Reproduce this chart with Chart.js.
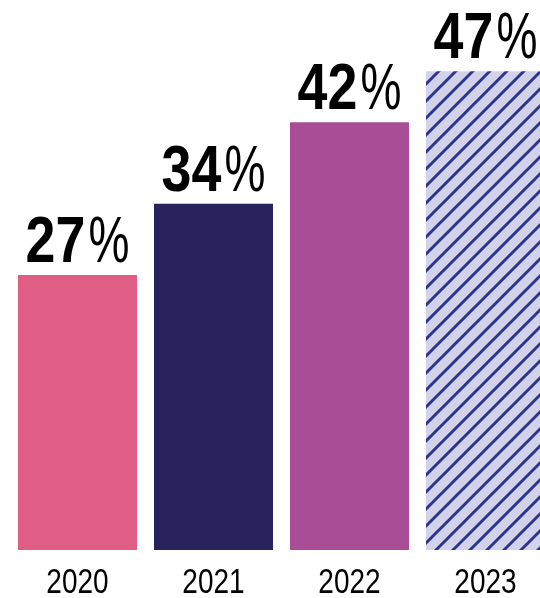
<!DOCTYPE html>
<html>
<head>
<meta charset="utf-8">
<script src="https://cdn.jsdelivr.net/npm/chart.js@4/dist/chart.umd.min.js"></script>
<style>
  html, body { margin: 0; padding: 0; background: #ffffff; overflow: hidden; }
  #wrap { width: 540px; height: 598px; overflow: hidden; position: relative; }
  #chart { position: absolute; left: 0; top: 0; }
</style>
</head>
<body>
<div id="wrap"><canvas id="chart" width="560" height="598"></canvas></div>
<script>
// Share by year (%)
const years = ['2020', '2021', '2022', '2023'];
const shares = [27, 34, 42, 47];
const barColors = ['#e05e85', '#29235c', '#a84d96', null];

const FONT = '"Liberation Sans", Arial, Helvetica, sans-serif';
const NUM_SQUEEZE = 0.84;   // condensed bold figures
const PCT_SQUEEZE = 0.72;   // light, narrow percent sign
const YEAR_SQUEEZE = 0.8;

// Diagonal hatch fill for the latest year
function makeHatch() {
  const size = 17;
  const c = document.createElement('canvas');
  c.width = size; c.height = size;
  const g = c.getContext('2d');
  g.fillStyle = '#d2d3ea';
  g.fillRect(0, 0, size, size);
  g.strokeStyle = '#2a3590';
  g.lineWidth = 2.9;
  g.beginPath();
  for (let k = -1; k <= 1; k++) {
    g.moveTo(k * size - 2, size + 2);
    g.lineTo(k * size + size + 2, -2);
  }
  g.stroke();
  return g.createPattern(c, 'repeat');
}

// Draws text squeezed horizontally, anchored at its left edge
function squeezedText(g, text, x, y, sx) {
  g.save();
  g.translate(x, y);
  g.scale(sx, 1);
  g.fillText(text, 0, 0);
  g.restore();
}

const ctx = document.getElementById('chart').getContext('2d');
const fills = barColors.map(c => c || makeHatch());

// Value labels above bars and year labels under them
const barText = {
  id: 'barText',
  afterDatasetsDraw(chart) {
    const g = chart.ctx;
    const meta = chart.getDatasetMeta(0);
    const xScale = chart.scales.x;
    const bottom = chart.chartArea.bottom;
    g.save();
    g.fillStyle = '#000000';
    g.textBaseline = 'alphabetic';
    g.textAlign = 'left';
    meta.data.forEach((bar, i) => {
      const num = String(shares[i]);
      g.font = 'bold 64px ' + FONT;
      const wNum = g.measureText(num).width * NUM_SQUEEZE;
      g.font = '64px ' + FONT;
      const wPct = g.measureText('%').width * PCT_SQUEEZE;
      const gap = 3;
      const x0 = bar.x - (wNum + gap + wPct) / 2;
      const y = bar.y - 13;
      g.font = 'bold 64px ' + FONT;
      squeezedText(g, num, x0, y, NUM_SQUEEZE);
      g.font = '64px ' + FONT;
      squeezedText(g, '%', x0 + wNum + gap, y, PCT_SQUEEZE);
    });
    g.font = '35px ' + FONT;
    years.forEach((yr, i) => {
      const cx = xScale.getPixelForValue(i);
      const w = g.measureText(yr).width * YEAR_SQUEEZE;
      squeezedText(g, yr, cx - w / 2, bottom + 43, YEAR_SQUEEZE);
    });
    g.restore();
  }
};

new Chart(ctx, {
  type: 'bar',
  data: {
    labels: years,
    datasets: [{
      data: shares,
      backgroundColor: fills,
      borderWidth: 0,
      barPercentage: 0.875,
      categoryPercentage: 1.0
    }]
  },
  options: {
    responsive: false,
    animation: false,
    layout: { padding: { left: 9.5, right: 6.5, top: 0, bottom: 48 } },
    plugins: {
      legend: { display: false },
      tooltip: { enabled: false }
    },
    scales: {
      x: { display: false },
      y: { display: false, min: 0, max: 54 }
    }
  },
  plugins: [barText]
});
</script>
</body>
</html>
